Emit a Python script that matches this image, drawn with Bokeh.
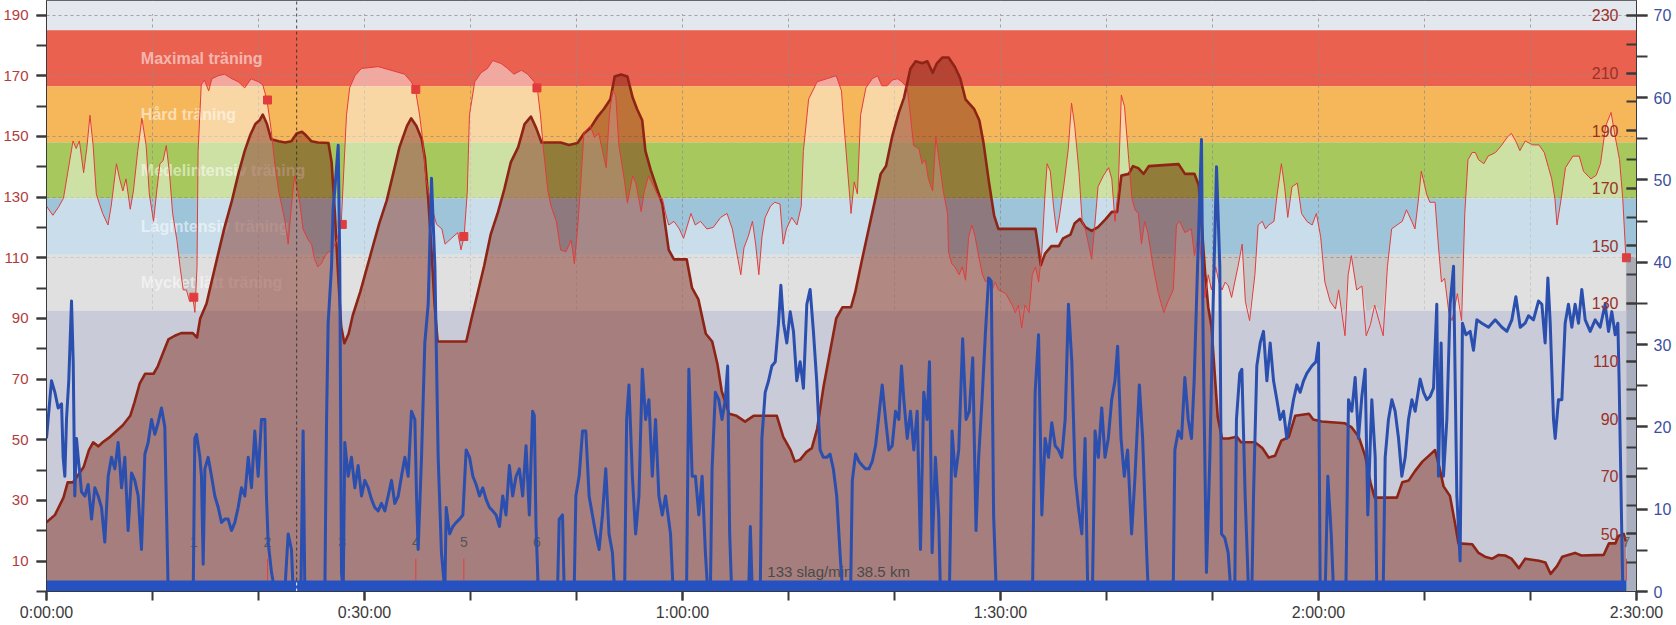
import numpy as np
from bokeh.plotting import figure
from bokeh.models import Range1d, LinearAxis, FixedTicker
from bokeh.core.properties import value
from bokeh.embed import file_html
from bokeh.resources import INLINE

FONT = value("Liberation Sans")

# ---------------- data ----------------
T_TICKS = [0, 30, 60, 90, 120, 150]                 # minutes
T_LABELS = ["0:00:00", "0:30:00", "1:00:00", "1:30:00", "2:00:00", "2:30:00"]
T_MINOR = list(range(0, 151, 10))

HR_TICKS = [10, 30, 50, 70, 90, 110, 130, 150, 170, 190]
HR_MINOR = list(range(0, 191, 10))
HR_GRID = [110, 130, 150, 170, 190]
ALT_TICKS = [50, 70, 90, 110, 130, 150, 170, 190, 210, 230]
ALT_MINOR = list(range(40, 231, 10))
SPD_TICKS = [0, 10, 20, 30, 40, 50, 60, 70]
SPD_MINOR = list(range(0, 71, 5))

ZONE_NAMES = ["Maximal träning", "Hård träning", "Medelintensiv träning",
              "Lågintensiv träning", "Mycket lätt träning"]
ZONE_TOP = [185, 166.5, 148, 129.5, 111]
ZONE_BOTTOM = [166.5, 148, 129.5, 111, 92.5]
ZONE_COLORS = ["#ea6150", "#f5b75a", "#a6c85c", "#9dc4d9", "#c6c6c6"]

HR_T = [0.0, 0.6, 1.1, 1.6, 2.0, 2.5, 2.8, 3.1, 3.5, 3.8, 4.1, 4.4, 4.7, 5.0, 5.3, 5.8, 6.1, 6.6, 6.9,
        7.2, 7.5, 7.9, 8.2, 8.6, 9.0, 9.4, 9.7, 10.1, 10.4, 10.7, 11.0, 11.3, 11.6, 11.9, 12.3, 12.6,
        12.9, 13.2, 13.5, 13.8, 14.0, 14.2, 14.3, 14.6, 14.9, 15.3, 15.6, 16.2, 16.8, 17.5, 18.1, 18.7,
        19.3, 20.0, 20.4, 20.8, 21.2, 21.5, 21.9, 22.2, 22.5, 22.8, 23.1, 23.4, 23.7, 23.9, 24.2, 24.7,
        25.0, 25.3, 25.6, 25.9, 26.3, 26.6, 26.9, 27.4, 27.8, 28.3, 28.6, 29.1, 29.7, 31.3, 32.5, 33.8,
        34.4, 34.8, 35.2, 35.5, 35.8, 36.3, 36.8, 37.3,
        37.6, 38.2, 38.8, 39.1, 39.4, 39.7, 39.9, 40.4, 41.0, 41.6, 42.1, 42.9, 43.5, 44.1, 44.8, 45.4,
        46.0, 46.3, 46.6, 46.9, 47.3, 47.6, 48.1, 48.5, 49.0, 49.5, 49.8, 50.1, 50.4, 50.7, 51.0, 51.3,
        51.7, 52.1, 52.4, 52.8, 53.1, 53.4, 53.7, 54.0, 54.5, 54.8, 55.3, 55.6, 56.1, 56.4, 56.8, 57.3,
        57.8, 58.1, 58.4, 58.7, 59.2, 59.7, 60.1, 60.8, 61.2, 61.7, 62.3, 62.9, 63.6, 64.2, 64.7, 65.1,
        65.5, 65.8, 66.2, 66.6, 66.9, 67.2, 67.5, 67.8, 68.3, 68.7, 69.2, 69.5, 69.8, 70.3, 70.8, 71.2,
        71.4, 71.9, 72.7, 73.6, 74.5, 75.0,
        75.1, 75.9, 76.2, 76.5, 76.8, 77.3, 77.9, 78.4, 78.8, 79.3, 79.8, 80.3, 80.7, 81.2, 81.5, 81.8,
        82.3, 82.6, 82.9, 83.2, 83.6, 83.9, 84.3, 84.6, 85.0, 85.1, 85.4, 85.7, 86.1, 86.4, 86.7, 87.0,
        87.3, 87.6, 88.0, 88.3, 88.6, 88.9, 89.2, 89.5, 89.8, 90.5, 91.1, 91.4, 91.7, 92.0, 92.3, 92.7,
        93.0, 93.3, 93.6, 93.9, 94.2, 94.4, 94.7, 95.0, 95.3, 95.6, 96.0, 96.4, 96.7, 97.0, 97.4, 97.7,
        98.0, 98.3, 98.6, 98.9, 99.2, 99.7, 100.2, 100.5, 100.8, 101.1, 101.4, 101.7, 102.1, 102.4,
        102.7, 103.0, 103.3, 103.6, 103.9, 104.4, 104.9, 105.4, 105.8, 106.3, 106.6, 106.9, 107.4,
        108.0, 108.3, 108.7, 109.0, 109.3, 109.6, 109.9, 110.3, 110.6, 110.9, 111.2, 111.5, 111.8,
        112.1, 112.4,
        112.8, 113.1, 113.5, 114.0, 114.3, 114.7, 115.0, 115.3, 115.8, 116.1, 116.5, 116.8, 117.1,
        117.5, 118.0, 118.4, 118.9, 119.4, 119.8, 120.2, 120.6, 121.1, 121.6, 121.9, 122.2, 122.5,
        122.8, 123.1, 123.6, 124.1, 124.5, 124.9, 125.3, 125.7, 126.1, 126.5, 126.9, 127.4, 127.9,
        128.3, 128.8, 129.1, 129.4, 129.7, 130.2, 130.5, 131.0, 131.3, 131.6, 131.9, 132.3, 132.6,
        133.1, 133.5, 133.8, 134.1, 134.5, 134.8, 135.1, 135.6, 136.0, 136.7, 137.3, 137.8, 138.2,
        138.6, 139.0, 139.5, 140.2, 140.8, 141.3, 141.7, 142.0, 142.3, 142.5, 142.9, 143.3, 144.0,
        144.6, 145.0, 145.7, 146.2, 146.6, 147.1, 147.6, 148.0, 148.4, 148.7, 149.0]
HR_V = [127, 124, 126.5, 129.6, 138, 148.5, 146, 148.5, 138, 146, 157, 147, 131, 127.7, 124.6, 120.8,
        127, 141, 136, 132, 136, 126, 132, 145, 156, 147, 131, 122, 132, 141, 142, 147, 138, 124.6,
        115.8, 107, 99.4, 99.4, 95.6, 97, 92, 107, 145, 167, 168.6, 165, 169, 170, 170.5, 169, 168,
        166, 169, 168, 167, 162, 152, 142, 132, 127, 122, 114.5, 127, 137, 132, 128, 119.5, 115.8,
        114.5, 109.5, 107, 108, 110.7, 112, 112, 116, 121, 157, 166, 170, 172.4, 173, 171.8, 170.5,
        168, 165.5, 157, 148.5, 136, 127, 121, 119.5,
        114.5, 116.4, 118.3, 112.6, 117, 132, 157, 168, 171, 172.4, 175, 174, 172.4, 170.5, 171.8,
        170.5, 168, 166, 157, 145, 132, 127, 122, 112.6, 112, 115.8, 108, 119.5, 134.6, 151, 152.3,
        153.5, 149.7, 151, 146, 139.7, 157, 165, 163.6, 147, 136, 128, 137, 134.6, 125.2, 132, 137,
        133.4, 129.6, 129.6, 124.6, 120.8, 122, 119.5, 116.4, 124.6, 120.8, 122, 119.5, 120, 123.3,
        124.6, 119.5, 112, 104.4, 113.3, 117, 122, 114.5, 104.4, 117, 123.3, 127, 128.3, 127.7,
        114.5, 119.5, 123.3, 120.8, 127, 145, 162.3, 168, 169, 170, 165,
        159.8, 124.6, 135, 131, 157, 166, 169, 170, 166.7, 166.7, 168.6, 169, 168, 166, 157, 147,
        146, 141, 142.3, 136, 132, 149.7, 139.7, 132, 124.6, 112, 108, 107, 104.4, 107, 102.6, 117,
        120.8, 117, 109.5, 104.4, 102, 103.2, 99.4, 102, 99.4, 98.2, 94.4, 91.9, 94.4, 86.8, 94.4,
        91.9, 104.4, 107, 102, 112, 131, 141, 138.5, 127, 118.3, 124.6, 134.6, 146, 161, 153.5,
        138.5, 122, 119.5, 114.5, 109.5, 120.8, 133.4, 137, 139.7, 136, 122, 132, 163.6, 159.8,
        142.3, 129.6, 125.8, 124.6, 114.5, 122, 118.3, 107, 98.2, 91.9, 95.6, 99.4, 120.8, 122,
        118.3, 119.5, 110.7, 118.3, 107, 96.9, 104.4, 99.4, 107, 102, 99.4, 102, 100.7, 96.9, 102,
        107,
        114.5, 95.6, 89.3, 104.4, 120.8, 122, 119.5, 120.8, 122, 131, 141, 133.4, 123.3, 133.4,
        134.6, 124.6, 122, 120.8, 124.6, 117, 102, 95.6, 93.1, 99.4, 91.9, 84.3, 104.4, 110.7, 99.4,
        100.7, 84.3, 88, 94.4, 89.3, 84.3, 107, 119.5, 120.8, 122, 125.8, 122, 119.5, 128.3, 138.5,
        131, 128.3, 128.3, 114.5, 102, 103.2, 91.9, 89.3, 98.2, 89.3, 124.6, 142.3, 144.7, 144.7,
        142.3, 141, 143.5, 144.7, 147.2, 149.7, 151, 148.5, 145.3, 148.5, 147.2, 147.2, 144.7,
        139.7, 136, 129.6, 120.8, 129.6, 139.7, 143.5, 143.5, 138.5, 136, 137.2, 141, 153.5, 157.9,
        149.7, 142.3, 129.6, 110]

ALT_T = [0.0, 0.8, 1.6, 2.0, 2.5, 3.0, 3.5, 4.0, 4.4, 4.9, 5.3, 6.0, 6.6, 7.2, 7.9, 8.3, 8.8, 9.3,
         10.1, 10.5, 11.0, 11.5, 12.1, 12.7, 13.8, 14.2, 14.5, 15.1, 15.6, 16.2, 16.8, 17.5, 18.1,
         18.7, 19.2, 19.7, 20.1, 20.4, 20.8, 21.2, 21.9, 22.5, 23.1, 23.6, 24.1, 24.5, 25.0, 25.6,
         26.6, 26.9, 27.2, 27.5, 27.8, 28.1, 28.5, 28.9, 29.6, 30.2, 30.8, 31.4, 32.1, 32.7, 33.3,
         34.0, 34.4, 34.9, 35.4, 35.7, 36.0, 36.3, 36.6, 36.9, 39.6, 40.1, 40.7, 41.3, 41.9, 42.6,
         43.2, 43.8, 44.5, 45.1, 45.7, 46.2, 46.7, 48.5, 49.3, 50.1, 50.7, 51.3, 52.0, 52.6, 53.2,
         53.6, 54.2, 54.8, 55.3, 55.7, 56.2, 56.5, 57.0, 57.6, 58.1, 58.4, 58.7, 59.2, 60.4, 60.9,
         61.5, 62.2, 62.8, 63.3, 63.7, 64.4, 65.1, 65.9, 66.7, 68.9, 69.5, 70.2, 70.6, 71.1, 71.7,
         72.2, 72.7, 73.3, 73.9, 74.5, 75.1, 75.9, 76.3, 76.9, 77.6, 78.2, 78.7, 79.2, 79.8, 80.4,
         80.9, 81.5, 82.0, 82.6, 83.1, 83.6, 84.0, 84.5, 85.1, 85.7, 86.2, 86.7, 87.5, 88.0, 88.4,
         88.9, 89.4, 89.8, 93.3, 93.6, 93.8, 94.2, 94.8, 95.5, 95.9, 96.6, 97.0, 97.5, 98.0, 98.6,
         99.2, 99.9, 100.5, 101.0, 101.4, 102.1, 102.5, 103.0, 103.5, 104.0, 106.8, 107.4, 108.3,
         108.7, 109.0, 109.3, 109.6, 109.9, 110.2, 110.5, 110.9, 111.5, 112.3, 112.7, 114.0, 114.7,
         115.3, 115.9, 116.5, 117.2, 117.8, 119.1, 119.5, 120.3, 122.5, 123.1, 123.8, 124.4, 124.9,
         125.3, 127.4, 127.9, 128.5, 129.1, 129.8, 130.4, 131.0, 131.4, 131.8, 132.4, 132.9, 133.2,
         134.5, 135.1, 135.7, 136.4, 137.0, 137.6, 138.2, 138.9, 139.5, 140.8, 141.4, 141.9, 142.5,
         143.0, 144.2, 144.8, 146.9, 147.4, 148.0, 148.3, 148.8, 149.0]
ALT_V = [54, 56.6, 62.6, 67.9, 67.9, 70.5, 73.2, 79.1, 81.8, 80.4, 81.8, 83.7, 85.7, 87.7, 91, 95.7,
         102.3, 105.6, 105.6, 108.2, 112.9, 117.5, 118.8, 119.7, 119.7, 118.2, 124.8, 130, 138, 147.3,
         156.5, 165.8, 175, 183, 188.3, 192.3, 193.6, 195.6, 192.3, 187, 186.3, 185.9, 186.3, 189,
         189.6, 188.3, 186.3, 185.9, 185.7, 179, 161.8, 140.7, 122, 116.2, 119.5, 126, 134, 142, 150,
         157.9, 165.8, 175, 184.3, 191.6, 194.3, 191.6, 187, 180.4, 167, 150, 130, 116.8, 116.8,
         124.8, 134, 143.3, 153.9, 161.8, 169.8, 179, 184.3, 192.3, 194.9, 190.9, 185.9, 185.9, 185,
         185.7, 189, 190.9, 194.9, 197.6, 200.9, 208.8, 209.5, 208.8, 201.5, 197.6, 193.6, 183,
         176.4, 169.8, 164.5, 156.5, 148.6, 145.3, 145.3, 135.4, 131.4, 119.5, 116.8, 108.9, 99.6,
         91.7, 91, 89, 91, 91, 83.7, 79.1, 75.1, 75.8, 78.5, 79.8, 86.4, 101, 112.9, 124.8, 128.7,
         128.7, 134, 144.6, 156.5, 166.5, 175, 177.7, 188.3, 196.2, 201.5, 211.5, 214.1, 213.4,
         214.1, 210.1, 213.4, 215.4, 215.4, 212.1, 208.2, 200.9, 197.6, 193.6, 185.7, 172.4, 160.5,
         155.9, 155.9, 148.6, 143.3, 147.3, 149.9, 149.9, 152.6, 153.9, 157.9, 159.4, 156.5, 155.2,
         156.5, 159.2, 161.8, 161.8, 174.4, 175, 177.7, 177, 175, 177.7, 178.4, 175, 175, 171.1,
         156.5, 140.7, 128.7, 122.1, 106.2, 90.4, 83.1, 83.1, 83.7, 81.8, 81.8, 79.8, 76.5, 77.1,
         82.4, 83.7, 91, 91.7, 89.7, 89, 88.4, 87.1, 83.7, 77.1, 67.9, 62.6, 62.6, 67.9, 68.5, 71.8,
         75.1, 77.1, 79.1, 73.2, 66.5, 63.2, 53.3, 46.7, 46.4, 43.4, 42.1, 41.4, 42.7, 42.5, 41.4,
         38.1, 41.4, 40.7, 40.1, 36.1, 38.8, 42.1, 43.4, 42.5, 42.7, 46.7, 46.7, 49.3, 50, 47.4]

SPD_T = [0.0, 0.16, 0.47, 0.79, 1.1, 1.42, 1.57, 1.73, 1.89, 2.1, 2.36, 2.52, 2.67, 2.83, 2.99, 3.14,
         3.3, 3.62, 3.93, 4.25, 4.56, 4.87, 5.19, 5.5, 5.82, 6.13, 6.45, 6.76, 7.08, 7.39, 7.7, 8.02,
         8.33, 8.65, 8.96, 9.28, 9.59, 9.91, 10.22, 10.53, 10.85, 11.16, 11.48, 13.84, 13.99, 14.15,
         14.47, 14.62, 14.78, 14.94, 15.25, 15.57, 15.88, 16.2, 16.51, 16.82, 17.14, 17.45, 17.77,
         18.08, 18.4, 18.71, 19.03, 19.34, 19.65, 19.97, 20.28, 20.6, 20.75, 20.91, 21.23, 21.54,
         22.48, 22.8, 23.11, 23.27, 24.0, 24.21, 24.37, 26.26, 26.42, 26.57, 26.89, 27.04, 27.2,
         27.52, 27.67, 27.83, 27.99, 28.14, 28.46, 28.77, 29.09, 29.4, 29.72, 30.03, 30.35, 30.66,
         30.97, 31.29, 31.6, 31.92, 32.23, 32.55, 32.86, 33.18, 33.49, 33.81, 34.12, 34.43, 34.75,
         34.91, 35.06, 35.38, 35.69, 36.01, 36.32, 36.64, 36.95, 37.26, 37.58,
         37.71, 38.03, 38.34, 38.65, 38.97, 39.28, 39.59, 39.91, 40.22, 40.53, 40.85, 41.16, 41.47,
         41.79, 42.1, 42.41, 42.73, 43.04, 43.35, 43.67, 43.98, 44.3, 44.61, 44.92, 45.24, 45.55,
         45.86, 46.02, 46.18, 46.4, 48.21, 48.37, 48.68, 48.84, 49.78, 49.94, 50.25, 50.57, 50.88,
         51.19, 51.5, 51.82, 52.13, 52.45, 52.76, 53.07, 53.39, 53.6, 54.54, 54.73, 54.95, 55.27,
         55.58, 55.89, 56.21, 56.52, 56.83, 57.15, 57.46, 57.77, 58.09, 58.4, 58.87, 59.12, 60.38,
         60.6, 60.91, 61.22, 61.54, 61.85, 62.16, 62.38, 62.63, 62.79, 63.1, 63.42, 63.73, 64.04,
         64.26, 64.45, 64.64, 66.24, 66.4, 66.58, 67.34, 67.49, 67.8, 68.12, 68.43, 68.75, 69.06,
         69.28, 69.53, 69.84, 70.16, 70.47, 70.78, 71.1, 71.41, 71.73, 72.04, 72.35, 72.66, 72.98,
         73.29, 73.61, 73.92, 74.23, 74.55, 74.86, 75.1,
         75.86, 76.02, 76.33, 76.64, 76.96, 77.27, 77.59, 77.9, 78.21, 78.53, 78.84, 79.16, 79.47,
         79.78, 80.1, 80.41, 80.66, 80.88, 81.2, 81.51, 81.82, 82.14, 82.45, 82.76, 83.08, 83.3,
         83.55, 83.86, 84.17, 84.33, 85.18, 85.43, 85.74, 86.06, 86.43, 86.75, 87.06, 87.38, 87.69,
         87.94, 88.26, 88.57, 88.88, 89.13, 89.35, 89.6, 93.02, 93.27, 93.59, 93.9, 94.21, 94.53,
         94.84, 95.16, 95.47, 95.78, 96.1, 96.41, 96.73, 97.04, 97.35, 97.67, 97.98, 98.23, 98.67,
         98.92, 99.23, 99.55, 99.86, 100.17, 100.49, 100.8, 101.05, 101.37, 101.68, 101.99, 102.37,
         102.69, 103.1, 103.41, 103.79, 103.94, 106.29, 106.45, 106.77, 107.08, 107.39, 107.71,
         108.02, 108.27, 108.59, 108.96, 109.12, 109.43, 109.75, 110.06, 110.38, 110.69, 110.85,
         111.16, 111.48, 111.73, 112.1, 112.26, 112.57,
         112.77, 113.08, 113.4, 113.71, 113.87, 114.18, 114.5, 114.81, 115.13, 115.44, 115.76,
         116.07, 116.38, 116.7, 117.01, 117.33, 117.64, 117.96, 118.27, 118.59, 118.9, 119.37,
         119.75, 120.0, 120.16, 120.63, 120.88, 121.2, 121.42, 122.58, 122.83, 123.14, 123.46,
         123.77, 124.09, 124.4, 124.65, 125.03, 125.35, 125.5, 126.1, 126.29, 126.6, 126.92, 127.23,
         127.55, 127.86, 128.18, 128.49, 128.81, 129.12, 129.59, 129.91, 130.22, 130.53, 130.85,
         131.16, 131.32, 131.57, 131.79, 132.11, 132.42, 132.74, 133.05, 133.36, 133.58, 133.9,
         134.31, 134.62, 134.94, 135.41, 136.04, 136.67, 137.3, 137.77, 138.24, 138.62, 139.03,
         139.5, 139.81, 140.28, 140.76, 141.07, 141.38, 141.64, 141.86, 142.17, 142.33, 142.64,
         142.96, 143.27, 143.58, 143.9, 144.21, 144.53, 144.84, 145.16, 145.63, 146.1, 146.57,
         147.04, 147.36, 147.67, 147.99, 148.24, 148.36, 148.55, 148.71]
SPD_V = [18.6, 21, 25.6, 24.2, 22.3, 22.8, 16.3, 14, 21, 25.6, 35.3, 27.9, 11.6, 18.6, 16.3, 14.4,
         12.1, 11.6, 13, 8.8, 12.6, 11.6, 10.2, 6, 14, 16.3, 14.9, 18.1, 12.6, 16.3, 7.4, 14.4, 13.5,
         11.6, 5.1, 16.7, 18.1, 20.9, 19.1, 20.5, 22.3, 20, 0, 0, 18.6, 19.1, 16.3, 14, 3.3, 14.9,
         16.3, 14, 11.6, 10.2, 8.4, 8.8, 8.8, 7.4, 8.4, 10.2, 12.6, 11.6, 16.3, 12.6, 19.5, 14, 20.9,
         20.9, 11.6, 6, 2.3, 0, 0, 7, 5.1, 0, 0, 19.5, 0, 0, 20.9, 32.6, 39.5, 46.5, 48.8, 54.2,
         39.5, 2.3, 0, 18.1, 14, 16.3, 12.6, 15.3, 11.6, 13.5, 12.6, 11.2, 10.2, 9.8, 10.7, 9.8,
         11.6, 13.5, 10.7, 11.6, 14, 16.3, 14, 21.9, 20.9, 11.6, 5.1, 16.3, 30.2, 34.9, 50.2, 39.5,
         16.3, 4.7, 0,
         10.2, 7, 7.9, 8.4, 8.8, 9.3, 17.2, 16.3, 14, 13, 11.6, 12.6, 11.2, 10.2, 9.8, 9.3, 7.9,
         11.6, 9.3, 15.3, 11.6, 14, 14.9, 11.6, 17.7, 9.3, 21.9, 21.4, 7.9, 0, 0, 8.8, 9.3, 0, 0,
         11.6, 14, 19.5, 19.5, 11.6, 9.3, 7, 5.1, 9.3, 14.9, 7, 4.7, 0, 0, 20.9, 25.1, 14, 7, 11.6,
         27, 20.9, 23.3, 14, 20.9, 11.6, 9.3, 11.6, 7, 0, 0, 27, 14, 14, 9.3, 14, 4.7, 0, 0, 14.9,
         24.2, 23.3, 20.9, 23.3, 27.4, 7, 0, 0, 7.9, 0, 0, 18.6, 24.2, 25.6, 27.4, 27.9, 32.6, 37.2,
         32.6, 30.2, 34, 31.6, 25.6, 27.9, 24.7, 34.9, 36.7, 31.6, 25.6, 17.2, 16.3, 16.3, 16.7,
         14.9, 11.6, 4.7, 0,
         0, 13.5, 16.7, 15.8, 15.3, 14.9, 14.9, 15.8, 17.7, 21.4, 25.1, 20.9, 17.2, 17.7, 21.9,
         20.9, 27.4, 23.3, 18.6, 21.9, 17.2, 21.9, 5.1, 24.2, 20.9, 27.9, 4.7, 16.3, 9.3, 0, 0,
         19.5, 14, 17.2, 30.7, 20.9, 21.9, 28.4, 7.4, 16.3, 23.3, 31.2, 38.1, 37.7, 9.3, 0, 0, 24.2,
         31.2, 9.3, 18.6, 16.3, 20.5, 17.7, 17.2, 16.3, 20.9, 34.9, 27.9, 14, 10.2, 7, 18.6, 0, 0,
         19.5, 16.3, 22.3, 16.3, 18.6, 23.3, 25.6, 29.8, 18.6, 14, 17.2, 7, 14, 25.1, 18.6, 4.7, 0,
         0, 17.2, 19.5, 18.6, 26, 20.9, 18.6, 25.6, 39.5, 54.9, 30.2, 2.3, 16.3, 34.9, 51.6, 39.5,
         7, 6.5, 4.7, 0, 0, 20.9, 26.5,
         27, 11.6, 0, 0, 11.6, 27.4, 30.2, 31.6, 25.6, 30.2, 25.6, 23.3, 20.9, 21.9, 18.6, 20.9,
         23.3, 25.1, 24.2, 25.6, 26.5, 27.4, 27.9, 30.2, 0, 0, 14, 7, 0, 0, 23.3, 21.9, 26, 18.6,
         23.7, 27, 9.3, 23.3, 16.3, 0, 0, 16.3, 20.9, 23.3, 21.9, 18.6, 14, 16.3, 20.9, 23.3, 21.9,
         25.8, 24.2, 23.3, 23.7, 24.7, 34.9, 14, 30.2, 14, 20.9, 34.9, 39.5, 11.6, 3.7, 32.6, 31.2,
         31.6, 29.3, 33, 32.6, 32.1, 33, 32.1, 31.6, 33, 35.8, 32.1, 32.6, 33.5, 33, 35.3, 34.9,
         30.2, 38.1, 32.6, 20.9, 18.6, 23.3, 23.3, 32.6, 34.9, 32.1, 34.9, 32.6, 36.7, 33, 31.6, 33,
         32.1, 34.9, 31.6, 34, 31.2, 32.6, 25.6, 11.6, 0]

LAP_T = [13.9, 20.85, 27.9, 34.84, 39.37, 46.27, 149.05]
LAP_HR = [97, 162, 121, 165.5, 117, 166, 110]
LAP_LABELS = ["1", "2", "3", "4", "5", "6", "7"]
CURSOR_T = 23.6
SUMMARY = "133 slag/min 38.5 km"

# ---------------- figure ----------------
X0, X1 = T_TICKS[0], T_TICKS[-1]
HR_TOP = 194.8
ALT_LO, ALT_HI = 30, 235.2
SPD_HI = 71.8

p = figure(width=1674, height=623, x_range=Range1d(X0, X1), y_range=Range1d(0, HR_TOP),
           output_backend="svg", toolbar_location=None,
           min_border_left=45, min_border_right=35, min_border_top=0, min_border_bottom=30)
p.extra_y_ranges = {"alt": Range1d(ALT_LO, ALT_HI), "spd": Range1d(0, SPD_HI)}
p.background_fill_color = "#e3e7ee"
p.border_fill_color = "white"
p.outline_line_color = "#3a3a3a"

# grid
p.xgrid.ticker = FixedTicker(ticks=T_MINOR)
p.ygrid.ticker = FixedTicker(ticks=HR_GRID)
for g in (p.xgrid, p.ygrid):
    g.grid_line_color = "#8c8c8c"
    g.grid_line_dash = "3 3"
    g.grid_line_alpha = 0.75
    g.grid_line_width = 1

# x axis
xa = p.xaxis[0]
xa.ticker = FixedTicker(ticks=T_TICKS, minor_ticks=T_MINOR)
xa.major_label_overrides = dict(zip(T_TICKS, T_LABELS))
xa.major_label_text_font = "Liberation Sans"
xa.major_label_text_font_size = "16px"
xa.major_label_text_color = "#3a3a3a"
xa.major_tick_out = 9
xa.major_tick_in = 0
xa.minor_tick_out = 9
xa.minor_tick_in = 0
xa.major_label_standoff = 3
for attr in ("axis_line_color", "major_tick_line_color", "minor_tick_line_color"):
    setattr(xa, attr, "#3a3a3a")
xa.major_tick_line_width = 2
xa.minor_tick_line_width = 2

# left heart-rate axis
ya = p.yaxis[0]
ya.ticker = FixedTicker(ticks=HR_TICKS, minor_ticks=HR_MINOR)
ya.major_label_text_font = "Liberation Sans"
ya.major_label_text_font_size = "15px"
ya.major_label_text_color = "#b23c3c"
ya.major_tick_out = 10
ya.major_tick_in = 0
ya.minor_tick_out = 10
ya.minor_tick_in = 0
ya.major_label_standoff = 8
for attr in ("axis_line_color", "major_tick_line_color", "minor_tick_line_color"):
    setattr(ya, attr, "#3a3a3a")
ya.major_tick_line_width = 2
ya.minor_tick_line_width = 2

# right speed axis
sa = LinearAxis(y_range_name="spd", ticker=FixedTicker(ticks=SPD_TICKS, minor_ticks=SPD_MINOR))
sa.major_label_text_font = "Liberation Sans"
sa.major_label_text_font_size = "16px"
sa.major_label_text_color = "#3c4f9e"
sa.major_tick_out = 11
sa.major_tick_in = 0
sa.minor_tick_out = 11
sa.minor_tick_in = 0
sa.major_label_standoff = 6
for attr in ("axis_line_color", "major_tick_line_color", "minor_tick_line_color"):
    setattr(sa, attr, "#3a3a3a")
sa.major_tick_line_width = 2
sa.minor_tick_line_width = 2
p.add_layout(sa, "right")

# inner altitude axis (drawn at the right frame edge, pointing inwards)
aa = LinearAxis(y_range_name="alt", fixed_location=X1,
                ticker=FixedTicker(ticks=ALT_TICKS, minor_ticks=ALT_MINOR))
aa.major_label_text_font = "Liberation Sans"
aa.major_label_text_font_size = "16px"
aa.major_label_text_color = "#9a3028"
aa.major_tick_out = 10
aa.major_tick_in = 0
aa.minor_tick_out = 10
aa.minor_tick_in = 0
aa.major_label_standoff = 8
aa.axis_line_color = None
aa.major_tick_line_color = "#3a3a3a"
aa.minor_tick_line_color = "#3a3a3a"
aa.major_tick_line_width = 2
aa.minor_tick_line_width = 2
p.add_layout(aa, "left")

# ---------------- marks ----------------
# zone bands (under grid)
p.quad(left=X0, right=X1, bottom=ZONE_BOTTOM, top=ZONE_TOP, fill_color=ZONE_COLORS,
       line_color=None, level="image")
# area below the zones and strip above top grid line (hide grid there)
p.quad(left=X0, right=X1, bottom=0, top=ZONE_BOTTOM[-1], fill_color="#c9ccd8", line_color=None)
p.quad(left=X0, right=X1, bottom=HR_GRID[-1] + 0.35, top=HR_TOP, fill_color="#e3e7ee", line_color=None)

# heart-rate light fill within zones
hr_v = np.array(HR_V, dtype=float)
p.varea(x=HR_T, y1=ZONE_BOTTOM[-1], y2=np.maximum(hr_v, ZONE_BOTTOM[-1]),
        fill_color="white", fill_alpha=0.45)

# zone names
centers = [(a + b) / 2 for a, b in zip(ZONE_TOP, ZONE_BOTTOM)]
p.text(x=[8.9] * len(ZONE_NAMES), y=centers, text=ZONE_NAMES, text_font=FONT,
       text_font_style="bold", text_font_size="16px", text_color="white", text_alpha=0.55,
       text_baseline="middle", text_align="left")

# altitude area
p.varea(x=ALT_T, y1=ALT_LO, y2=ALT_V, y_range_name="alt", fill_color="#7a1f10", fill_alpha=0.45)
p.line(ALT_T, ALT_V, y_range_name="alt", line_color="#8e2416", line_width=2.6, line_join="round")

# heart-rate line
p.line(HR_T, HR_V, line_color="#e23c3c", line_width=1)

# laps
p.segment(x0=LAP_T, x1=LAP_T, y0=3.6, y1=10.8, line_color="#e24040", line_width=1)
p.scatter(LAP_T, LAP_HR, marker="square", size=8, fill_color="#e23c3c", line_color="#e23c3c")
p.text(x=LAP_T, y=[16.4] * len(LAP_T), text=LAP_LABELS, text_font=FONT, text_font_size="14px",
       text_color="#555555", text_align="center", text_baseline="middle")
p.text(x=[68.0], y=[6.7], text=[SUMMARY], text_font=FONT, text_font_size="15px",
       text_color="#4a4a4a", text_align="left", text_baseline="middle")

# speed line
p.line(SPD_T, SPD_V, y_range_name="spd", line_color="#2b4fae", line_width=3, line_join="round")

# selection bar at bottom
p.quad(left=[X0], right=[LAP_T[-1]], bottom=[0], top=[3.6], fill_color="#2552c0", line_color=None)
p.quad(left=[LAP_T[-1]], right=[X1], bottom=[0], top=[LAP_HR[-1]], fill_color="#6b7390",
       fill_alpha=0.33, line_color=None)

# cursor
p.segment(x0=[CURSOR_T], x1=[CURSOR_T], y0=[3.6], y1=[HR_TOP], line_color="#2a2a2a",
          line_dash="3 3", line_width=1, line_alpha=0.85)
p.segment(x0=[CURSOR_T], x1=[CURSOR_T], y0=[0], y1=[3.6], line_color="white",
          line_dash="3 3", line_width=1)

open("out.html", "w").write(file_html(p, INLINE))
